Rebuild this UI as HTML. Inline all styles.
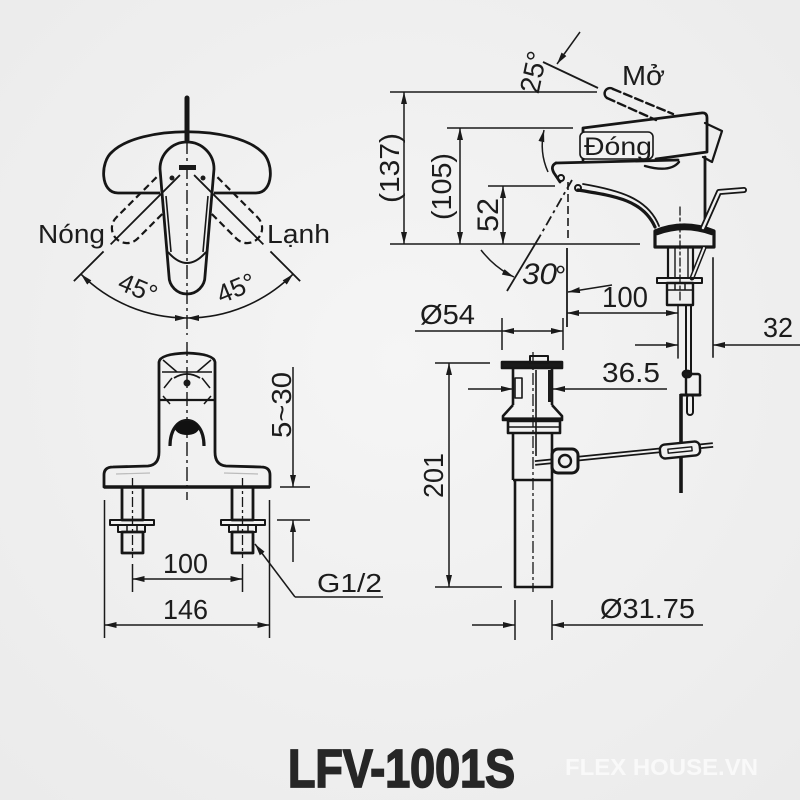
<!DOCTYPE html>
<html><head><meta charset="utf-8"><style>
html,body{margin:0;padding:0;background:#f0f0f0;}
svg{display:block;}
text{font-family:"Liberation Sans",Arial,sans-serif;fill:#1c1c1c;}
</style></head><body>
<svg width="800" height="800" viewBox="0 0 800 800" xmlns="http://www.w3.org/2000/svg">
<defs>
<radialGradient id="bg" cx="50%" cy="45%" r="72%"><stop offset="0" stop-color="#f5f5f5"/><stop offset="1" stop-color="#ebebeb"/></radialGradient>
<marker id="ar" viewBox="0 0 12 6" refX="12" refY="3" markerWidth="12" markerHeight="6" markerUnits="userSpaceOnUse" orient="auto-start-reverse"><path d="M0,0 L12,3 L0,6 Z" fill="#1a1a1a"/></marker>
</defs>
<rect width="800" height="800" fill="url(#bg)"/>

<!-- ===== LEFT TOP VIEW ===== -->
<g stroke="#161616" fill="none" stroke-width="2.8" stroke-linejoin="round">
<line x1="187" y1="140" x2="187" y2="335" stroke-width="1.4" stroke-dasharray="14 4 3 4"/>
<line x1="187" y1="98" x2="187" y2="140" stroke-width="5" stroke-linecap="round"/>
<path d="M160,193 L118,193 C100,193 100,162 112,152 C140,125 234,125 262,152 C274,162 274,193 256,193 L214,193"/>
<path d="M160,169 A27,27 0 0 1 214,169 L205,276 A18,18 0 0 1 169,276 Z"/>
<path d="M168,252 Q187,274 206,252" stroke-width="2"/>
<path d="M166,196 L171,252 M208,196 L203,252" stroke-width="1.6"/>
<g transform="rotate(45 187 168)">
 <g transform="translate(187 168)">
  <path d="M-15,28 L-15,85 A15,15 0 0 0 15,85 L15,50" stroke-dasharray="7 4" stroke-width="2.2"/>
  <line x1="0" y1="10" x2="0" y2="108" stroke-width="1.8"/>
  <line x1="0" y1="118" x2="0" y2="160" stroke-width="1.8"/>
 </g>
</g>
<g transform="rotate(-45 187 168)">
 <g transform="translate(187 168)">
  <path d="M15,28 L15,85 A15,15 0 0 1 -15,85 L-15,50" stroke-dasharray="7 4" stroke-width="2.2"/>
  <line x1="0" y1="10" x2="0" y2="108" stroke-width="1.8"/>
  <line x1="0" y1="118" x2="0" y2="160" stroke-width="1.8"/>
 </g>
</g>
<rect x="179" y="165" width="17" height="5" fill="#1a1a1a" stroke="none"/>
<circle cx="172" cy="178" r="2.5" fill="#1a1a1a" stroke="none"/>
<circle cx="203" cy="178" r="2.5" fill="#1a1a1a" stroke="none"/>
<path d="M80.9,274.1 A150,150 0 0 0 187,318" stroke-width="1.6" marker-start="url(#ar)" marker-end="url(#ar)"/>
<path d="M293.1,274.1 A150,150 0 0 1 187,318" stroke-width="1.6" marker-start="url(#ar)" marker-end="url(#ar)"/>
</g>
<text x="38" y="243" font-size="25.5" textLength="67" lengthAdjust="spacingAndGlyphs">Nóng</text>
<text x="267" y="243" font-size="25.5" textLength="63" lengthAdjust="spacingAndGlyphs">Lạnh</text>
<text transform="translate(138 288) rotate(22.5)" x="0" y="9" font-size="26" text-anchor="middle">45°</text>
<text transform="translate(236 288) rotate(-22.5)" x="0" y="9" font-size="26" text-anchor="middle">45°</text>

<!-- ===== LEFT BOTTOM FRONT VIEW ===== -->
<g stroke="#161616" fill="none" stroke-width="2.8" stroke-linejoin="round">
<line x1="187" y1="342" x2="187" y2="500" stroke-width="1.4" stroke-dasharray="14 4 3 4"/>
<path d="M104,487 L104,475 Q104,467 113,467 L148,466 Q159,465 159,452 L159,362 Q160,354 187,353 Q214,354 215,362 L215,452 Q215,465 226,466 L261,467 Q270,467 270,475 L270,487 Z"/>
<line x1="104" y1="487" x2="270" y2="487" stroke-width="3.4"/>
<line x1="159" y1="400" x2="215" y2="400" stroke-width="2.2"/>
<line x1="162" y1="372" x2="212" y2="372" stroke-width="1.6"/>
<path d="M163,360 L177,372 M211,360 L197,372 M164,388 L172,378 M210,388 L202,378 M163,396 L170,404 M211,396 L204,404" stroke-width="1.5"/>
<path d="M174,378 Q187,370 200,378" stroke-width="1.8"/>
<circle cx="187" cy="383" r="3.5" fill="#1a1a1a" stroke="none"/>
<path d="M170,446 C170,412 204,412 204,446" stroke-width="3.2"/>
<ellipse cx="187" cy="428" rx="12" ry="7" fill="#111" stroke="none"/>
<path d="M116,474 L150,473 M224,473 L258,474" stroke-width="1.2" stroke="#bbb"/>
<rect x="122" y="487" width="21" height="33"/>
<rect x="110" y="520" width="44" height="5" stroke-width="2"/>
<rect x="118" y="525" width="27" height="7" stroke-width="2"/>
<path d="M127,525 L127,532 M137,525 L137,532" stroke-width="1.5"/>
<rect x="122" y="532" width="21" height="21"/>
<line x1="132.5" y1="478" x2="132.5" y2="558" stroke-width="1.3" stroke-dasharray="10 3 3 3"/>
<rect x="232" y="487" width="21" height="33"/>
<rect x="221" y="520" width="44" height="5" stroke-width="2"/>
<rect x="229" y="525" width="27" height="7" stroke-width="2"/>
<path d="M238,525 L238,532 M248,525 L248,532" stroke-width="1.5"/>
<rect x="232" y="532" width="21" height="21"/>
<line x1="242.5" y1="478" x2="242.5" y2="558" stroke-width="1.3" stroke-dasharray="10 3 3 3"/>
</g>
<g stroke="#1a1a1a" fill="none" stroke-width="1.5">
<line x1="280" y1="487" x2="310" y2="487"/>
<line x1="277" y1="520" x2="310" y2="520"/>
<line x1="293" y1="367" x2="293" y2="487" marker-end="url(#ar)"/>
<line x1="293" y1="562" x2="293" y2="520" marker-end="url(#ar)"/>
<line x1="132.5" y1="564" x2="132.5" y2="592"/>
<line x1="242.5" y1="564" x2="242.5" y2="592"/>
<line x1="132.5" y1="579" x2="242.5" y2="579" marker-start="url(#ar)" marker-end="url(#ar)"/>
<line x1="104.5" y1="500" x2="104.5" y2="638"/>
<line x1="269.5" y1="500" x2="269.5" y2="638"/>
<line x1="104.5" y1="625" x2="269.5" y2="625" marker-start="url(#ar)" marker-end="url(#ar)"/>
<polyline points="295,597 383,597"/>
<line x1="295" y1="597" x2="255" y2="544" marker-end="url(#ar)"/>
</g>
<text x="163" y="573" font-size="28" textLength="45" lengthAdjust="spacingAndGlyphs">100</text>
<text x="163" y="619" font-size="28" textLength="45" lengthAdjust="spacingAndGlyphs">146</text>
<text x="317" y="592" font-size="26" textLength="65" lengthAdjust="spacingAndGlyphs">G1/2</text>
<text transform="translate(291 438) rotate(-90)" x="0" y="0" font-size="28" textLength="66" lengthAdjust="spacingAndGlyphs">5~30</text>

<!-- ===== RIGHT SIDE VIEW ===== -->
<g stroke="#1a1a1a" fill="none" stroke-width="1.5">
<line x1="390" y1="92" x2="597" y2="92"/>
<line x1="447" y1="128" x2="573" y2="128"/>
<line x1="488" y1="186" x2="555" y2="186"/>
<line x1="390" y1="244" x2="640" y2="244"/>
<line x1="404" y1="92" x2="404" y2="244" marker-start="url(#ar)" marker-end="url(#ar)"/>
<line x1="460" y1="128" x2="460" y2="244" marker-start="url(#ar)" marker-end="url(#ar)"/>
<line x1="503" y1="186" x2="503" y2="244" marker-start="url(#ar)" marker-end="url(#ar)"/>
<line x1="580" y1="32" x2="557" y2="64" marker-end="url(#ar)"/>
<line x1="543" y1="62" x2="598" y2="88" stroke-width="1.8"/>
<path d="M548,172 Q539,152 544,130" marker-end="url(#ar)"/>
<line x1="572" y1="180" x2="540" y2="236" stroke-dasharray="10 4 3 4" stroke-width="1.8"/>
<line x1="540" y1="236" x2="507" y2="291" stroke-width="1.8"/>
<path d="M481,250 Q495,268 514,277" marker-end="url(#ar)"/>
<line x1="568" y1="182" x2="568" y2="238" stroke-dasharray="8 4" stroke-width="1.6"/>
<line x1="567" y1="248" x2="567" y2="327" stroke-width="1.8"/>
</g>
<g stroke="#161616" fill="none" stroke-width="2.8" stroke-linejoin="round" stroke-linecap="round">
<path d="M613,89 L673,114 M607,98 L656,120" stroke-dasharray="8 4" stroke-width="2.4"/>
<path d="M613,89 A5,5 0 0 0 607,98" stroke-width="2.4"/>
<path d="M583,160 L583,128 L701,113 Q707,112 707,118 L707,152 L656,159"/>
<path d="M705,123 L722,131 L712,162 L703,157" stroke-width="2.2"/>
<rect x="580" y="132" width="73" height="27" rx="5" fill="#f2f2f2" stroke-width="1.6"/>
<path d="M556,163 L678,160"/>
<path d="M645,166 Q670,173 679,162" stroke-width="2.4"/>
<path d="M556,163 Q550,166 554,173 L560,182"/>
<circle cx="561" cy="178" r="3" stroke-width="2"/>
<circle cx="578" cy="188" r="3" stroke-width="2"/>
<path d="M578,190 C615,196 643,200 655,227" stroke-width="3.2"/>
<path d="M583,184 C618,190 648,198 659,226" stroke-width="1.8"/>
<line x1="705" y1="157" x2="705" y2="228"/>
<path d="M655,247 L655,231 Q684,219 714,231 L714,247 Z" stroke-width="3.2"/>
<path d="M657,233 Q684,223 712,233" stroke-width="4.5"/>
<path d="M703,228 L719,192 L744,190" stroke-width="6"/>
<path d="M703,228 L719,192 L744,190" stroke-width="2.4" stroke="#f0f0f0"/>
<line x1="680" y1="207" x2="680" y2="300" stroke-width="1.3" stroke-dasharray="8 3 3 3"/>
<path d="M668,247 L668,278 M693,247 L693,278" stroke-width="2.2"/>
<path d="M675,247 L675,278 M688,247 L688,278" stroke-width="1.4"/>
<path d="M704,248 L692,278" stroke-width="5"/>
<path d="M704,248 L692,278" stroke-width="2" stroke="#f0f0f0"/>
<rect x="657" y="278" width="45" height="5" stroke-width="2"/>
<rect x="667" y="283" width="26" height="22" stroke-width="2.4"/>
<path d="M667,290 L693,290 M675,283 L675,290 M685,283 L685,290" stroke-width="1.5"/>
<line x1="678" y1="305" x2="678" y2="358" stroke-width="1.5"/>
<path d="M686,305 L686,375 M691,305 L691,375" stroke-width="2"/>
<rect x="686" y="374" width="14" height="21" rx="2" stroke-width="2.4"/>
<rect x="683" y="371" width="8" height="6" rx="3" fill="#1a1a1a"/>
<line x1="681" y1="395" x2="700" y2="395" stroke-width="3"/>
<rect x="687" y="395" width="6" height="20" rx="3" stroke-width="2"/>
<line x1="681" y1="394" x2="681" y2="493" stroke-width="3.6" stroke-linecap="butt"/>
<line x1="713" y1="258" x2="713" y2="357" stroke-width="2" stroke="#444"/>
</g>
<text x="622" y="85" font-size="28" textLength="43" lengthAdjust="spacingAndGlyphs">Mở</text>
<text x="584" y="155" font-size="25" textLength="68" lengthAdjust="spacingAndGlyphs">Đóng</text>
<text transform="translate(399 203) rotate(-90)" font-size="28" textLength="70" lengthAdjust="spacingAndGlyphs">(137)</text>
<text transform="translate(451 220) rotate(-90)" font-size="28" textLength="67" lengthAdjust="spacingAndGlyphs">(105)</text>
<text transform="translate(498 232) rotate(-90)" font-size="30" textLength="34" lengthAdjust="spacingAndGlyphs">52</text>
<text transform="translate(533 72) rotate(-78)" x="0" y="10" font-size="28" text-anchor="middle">25°</text>
<text x="522" y="284" font-size="30" font-style="italic" textLength="35" lengthAdjust="spacingAndGlyphs">30</text>
<text x="555" y="285" font-size="28">°</text>

<!-- ===== DRAIN ===== -->
<g stroke="#161616" fill="none" stroke-width="2.6" stroke-linejoin="round">
<line x1="533" y1="352" x2="533" y2="592" stroke-width="1.3" stroke-dasharray="12 3 3 3"/>
<rect x="502" y="362" width="60" height="6" fill="#1a1a1a"/>
<rect x="530" y="356" width="18" height="7" stroke-width="2"/>
<path d="M513,368 L513,405 M552,368 L552,405"/>
<rect x="548" y="370" width="4" height="32" fill="#1a1a1a" stroke="none"/>
<rect x="515" y="378" width="7" height="20" stroke-width="1.6"/>
<line x1="536" y1="370" x2="536" y2="456" stroke-width="1.6"/>
<path d="M513,405 L503,416 L503,420 L562,420 L562,416 L552,405"/>
<line x1="503" y1="419" x2="562" y2="419" stroke-width="3.2"/>
<rect x="508" y="421" width="52" height="12"/>
<line x1="508" y1="427" x2="560" y2="427" stroke-width="1.5"/>
<path d="M513,433 L513,480 M552,433 L552,480 M513,480 L552,480"/>
<path d="M515,480 L515,587 L552,587 L552,480"/>
<path d="M535,463 L713,445" stroke-width="5.5"/>
<path d="M535,463 L713,445" stroke-width="2" stroke="#f0f0f0"/>
<rect x="552" y="449" width="26" height="24" rx="6" stroke-width="3" fill="#f0f0f0"/>
<circle cx="565" cy="461" r="6" stroke-width="2.4"/>
<g transform="rotate(-5.8 680 450)">
<rect x="660" y="443" width="40" height="14" rx="5" fill="#f0f0f0" stroke-width="2.4"/>
<rect x="668" y="448" width="24" height="4" stroke-width="1.4"/>
</g>
</g>
<g stroke="#1a1a1a" fill="none" stroke-width="1.5">
<line x1="415" y1="331" x2="502" y2="331"/>
<line x1="502" y1="331" x2="563" y2="331" marker-start="url(#ar)" marker-end="url(#ar)"/>
<line x1="502" y1="318" x2="502" y2="350"/>
<line x1="563" y1="318" x2="563" y2="350"/>
<line x1="567" y1="313" x2="678" y2="313" marker-start="url(#ar)" marker-end="url(#ar)"/>
<line x1="612" y1="285" x2="568" y2="292" marker-end="url(#ar)"/>
<line x1="635" y1="345" x2="678" y2="345" marker-end="url(#ar)"/>
<line x1="800" y1="345" x2="713" y2="345" marker-end="url(#ar)"/>
<line x1="468" y1="389" x2="513" y2="389" marker-end="url(#ar)"/>
<line x1="667" y1="389" x2="553" y2="389" marker-end="url(#ar)"/>
<line x1="435" y1="363" x2="490" y2="363"/>
<line x1="435" y1="587" x2="502" y2="587"/>
<line x1="449" y1="363" x2="449" y2="587" marker-start="url(#ar)" marker-end="url(#ar)"/>
<line x1="515" y1="600" x2="515" y2="640"/>
<line x1="552" y1="600" x2="552" y2="640"/>
<line x1="472" y1="625" x2="515" y2="625" marker-end="url(#ar)"/>
<line x1="703" y1="625" x2="552" y2="625" marker-end="url(#ar)"/>
</g>
<text x="602" y="307" font-size="29" textLength="46" lengthAdjust="spacingAndGlyphs">100</text>
<text x="420" y="324" font-size="28" textLength="55" lengthAdjust="spacingAndGlyphs">Ø54</text>
<text x="763" y="337" font-size="28" textLength="30" lengthAdjust="spacingAndGlyphs">32</text>
<text x="602" y="382" font-size="28" textLength="58" lengthAdjust="spacingAndGlyphs">36.5</text>
<text transform="translate(443 498) rotate(-90)" font-size="28" textLength="45" lengthAdjust="spacingAndGlyphs">201</text>
<text x="600" y="618" font-size="28" textLength="95" lengthAdjust="spacingAndGlyphs">Ø31.75</text>

<!-- ===== TITLE ===== -->
<text x="288" y="787" font-size="54" font-weight="bold" textLength="227" lengthAdjust="spacingAndGlyphs" style="fill:#262626" stroke="#262626" stroke-width="1.8">LFV-1001S</text>
<text x="565" y="775" font-size="23" font-weight="bold" textLength="193" lengthAdjust="spacingAndGlyphs" style="fill:#f9f9f9">FLEX HOUSE.VN</text>
</svg>
</body></html>
